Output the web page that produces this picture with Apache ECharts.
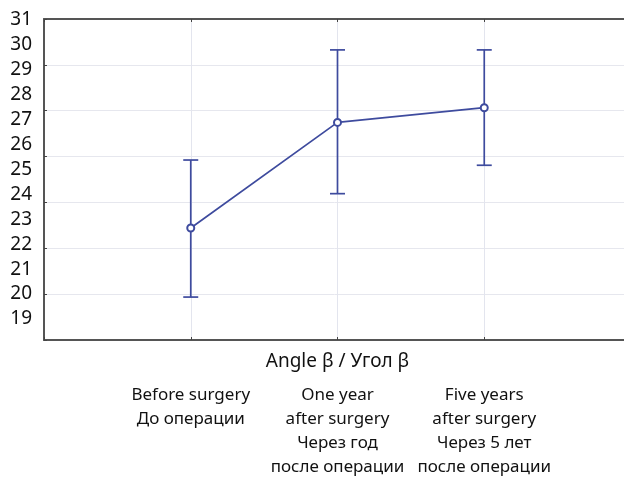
<!DOCTYPE html>
<html><head><meta charset="utf-8">
<script src="https://cdn.jsdelivr.net/npm/echarts@6/dist/echarts.min.js"></script>
<style>html,body{margin:0;padding:0;background:#fff}#c{width:624px;height:477px}</style>
</head><body><div id="c"></div>
<script>
const categories = ['Before surgery\nДо операции', 'One year\nafter surgery\nЧерез год\nпосле операции', 'Five years\nafter surgery\nЧерез 5 лет\nпосле операции'];
const catPos = [1, 2, 3];
const means = [22.65, 26.89, 27.48];
const upper = [25.38, 29.80, 29.80];
const lower = [19.88, 24.03, 25.17];
const yTickLabels = [19, 20, 21, 22, 23, 24, 25, 26, 27, 28, 29, 30, 31];
const axisTitle = 'Angle β / Угол β';

const C = '#3e4b9e';
const FONT = 'Noto Sans';
const chart = echarts.init(document.getElementById('c'), null, {renderer: 'canvas'});
chart.setOption({
  animation: false,
  grid: {left: 44, right: -7, top: 19, bottom: 137, containLabel: false, outerBoundsMode: 'none'},
  xAxis: [
    {type: 'value', min: 0, max: 4, interval: 1, position: 'bottom',
     name: axisTitle, nameLocation: 'middle', nameGap: 12, nameMoveOverlap: false,
     nameTextStyle: {fontFamily: FONT, fontSize: 19, color: '#111'},
     axisLine: {show: true, lineStyle: {color: '#555', width: 2}},
     axisTick: {show: true, inside: true, length: 3, lineStyle: {color: '#444'}},
     splitLine: {show: true, lineStyle: {color: '#e3e5ee', width: 1}},
     axisLabel: {show: true, margin: 43, fontFamily: FONT, fontSize: 17, lineHeight: 24, color: '#111', align: 'center',
       formatter: v => { const i = catPos.indexOf(v); return i >= 0 ? categories[i] : ''; }}},
    {type: 'value', min: 0, max: 4, interval: 1, position: 'top',
     axisLine: {show: true, lineStyle: {color: '#555', width: 2}},
     axisTick: {show: true, inside: true, length: 3, lineStyle: {color: '#444'}},
     splitLine: {show: false}, axisLabel: {show: false}}
  ],
  yAxis: [
    {type: 'value', min: 18.157, max: 31.04, position: 'left',
     axisLine: {show: true, lineStyle: {color: '#555', width: 2}},
     axisTick: {show: false},
     splitLine: {show: false},
     axisLabel: {show: true, customValues: yTickLabels, margin: 12, fontFamily: FONT, fontSize: 19, color: '#111'}},
    {type: 'value', min: 0, max: 7, interval: 1, position: 'left',
     axisLine: {show: false},
     axisTick: {show: true, inside: true, length: 3, lineStyle: {color: '#444'}},
     axisLabel: {show: false},
     splitLine: {show: true, lineStyle: {color: '#e6e7ee', width: 1}}}
  ],
  series: [
    {type: 'custom', xAxisIndex: 0, yAxisIndex: 0, z: 3,
     data: catPos.map((x, i) => [x, lower[i], upper[i]]),
     renderItem: (params, api) => {
       const x = api.value(0);
       const lo = api.coord([x, api.value(1)]);
       const hi = api.coord([x, api.value(2)]);
       const hw = 7.5;
       const st = {stroke: C, lineWidth: 1.7};
       return {type: 'group', children: [
         {type: 'line', shape: {x1: lo[0], y1: lo[1], x2: hi[0], y2: hi[1]}, style: st},
         {type: 'line', shape: {x1: hi[0] - hw, y1: hi[1], x2: hi[0] + hw, y2: hi[1]}, style: st},
         {type: 'line', shape: {x1: lo[0] - hw, y1: lo[1], x2: lo[0] + hw, y2: lo[1]}, style: st}
       ]};
     }},
    {type: 'line', xAxisIndex: 0, yAxisIndex: 0, z: 4,
     data: catPos.map((x, i) => [x, means[i]]),
     symbol: 'emptyCircle', symbolSize: 7,
     lineStyle: {color: C, width: 1.7},
     itemStyle: {color: C, borderColor: C, borderWidth: 1.3}}
  ]
});
</script></body></html>
